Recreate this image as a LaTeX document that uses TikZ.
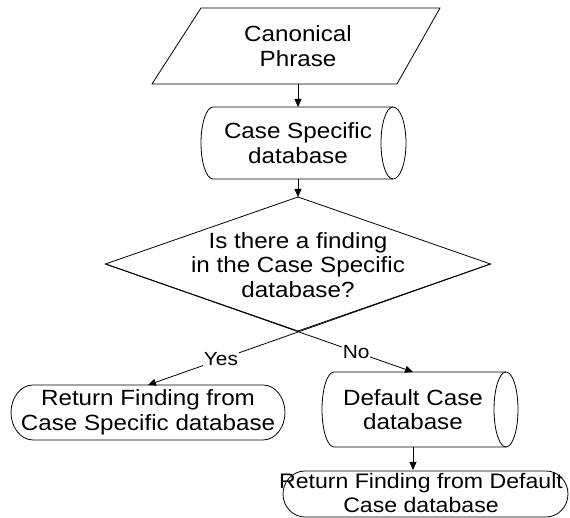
\documentclass[tikz,border=0pt]{standalone}
\usepackage{fontspec}
\setmainfont[FakeStretch=1.1]{Liberation Sans}
\usetikzlibrary{arrows.meta,shapes.geometric}
\begin{document}
\begin{tikzpicture}[x=1pt,y=1pt,
  outl/.style={draw=black, line width=0.8pt},
  box/.style={inner sep=0pt, outer sep=0pt, align=center, font=\fontsize{22}{24.5}\selectfont},
  conn/.style={draw=black, line width=0.8pt, -{Triangle[length=8pt,width=7pt]}},
  lbl/.style={fill=white, inner sep=1pt, font=\fontsize{19}{21}\selectfont}]
\useasboundingbox (0,0) rectangle (570,518);

% input parallelogram
\draw[outl] (201,510) -- (440,510) -- (397,434) -- (152,434) -- cycle;
\node[box, minimum width=200, minimum height=76] (canon) at (298,472) {Canonical\\Phrase};

% case specific database
\draw[outl] (213,411) arc[start angle=90,end angle=270,x radius=12,y radius=36]
  -- (393,339) arc[start angle=-90,end angle=90,x radius=13,y radius=36] -- cycle;
\draw[outl] (393,411) arc[start angle=90,end angle=270,x radius=12,y radius=36];
\node[box, minimum width=180, minimum height=72] (csdb) at (298,375) {Case Specific\\database};

% decision
\node[diamond, outl, minimum width=385, minimum height=134, inner sep=0pt, outer sep=0pt] (dec) at (298,254) {};
\node[box] (dectext) at (298,253) {Is there a finding\\in the Case Specific\\database?};

% left terminal
\draw[outl] (33,133) -- (263,133) arc[start angle=90,end angle=-90,x radius=22,y radius=27.5]
  -- (33,78) arc[start angle=270,end angle=90,x radius=22,y radius=27.5] -- cycle;
\node[box, minimum width=230, minimum height=55] (retcs) at (148,105.5) {Return Finding from\\Case Specific database};

% default case database
\draw[outl] (334,146) arc[start angle=90,end angle=270,x radius=12,y radius=37.5]
  -- (506,71) arc[start angle=-90,end angle=90,x radius=12,y radius=37.5] -- cycle;
\draw[outl] (506,146) arc[start angle=90,end angle=270,x radius=12,y radius=37.5];
\node[box, minimum width=150, minimum height=75] (dflt) at (413,108.5) {Default Case\\database};

% right terminal
\draw[outl] (305,47) -- (546,47) arc[start angle=90,end angle=-90,x radius=22,y radius=23]
  -- (305,1) arc[start angle=270,end angle=90,x radius=22,y radius=23] -- cycle;
\node[box, font=\fontsize{21}{23.5}\selectfont, minimum width=240, minimum height=46] (retdf) at (421,25) {Return Finding from Default\\Case database};

% connectors
\draw[conn] (canon.south) -- (csdb.north);
\draw[conn] (csdb.south) -- (dec.north);
\draw[conn] (dec.east) -- node[lbl, pos=0.787] {Yes} (retcs.north);
\draw[conn] (dec.west) -- node[lbl, pos=0.815] {No} (dflt.north);
\draw[conn] (dflt.south) -- (dflt.south |- retdf.north);
\end{tikzpicture}
\end{document}
